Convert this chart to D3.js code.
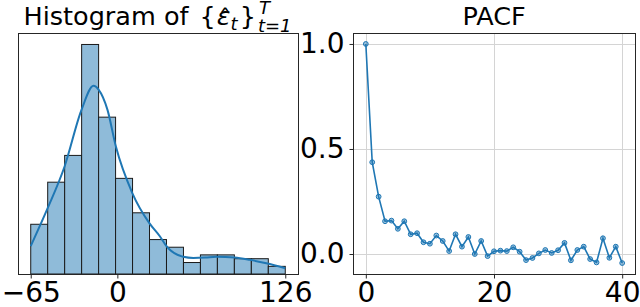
<!DOCTYPE html>
<html lang="en">
<head>
    <meta charset="UTF-8">
    <title>Residuals</title>
    <script src="https://d3js.org/d3.v7.min.js"></script>
    <style>
        body { margin: 0; background: white; }
        text { font-family: "DejaVu Sans", sans-serif; fill: black; }
        .spine { fill: none; stroke: #262626; stroke-width: 1; shape-rendering: crispEdges; }
        .grid line { stroke: #d4d4d4; stroke-width: 1; shape-rendering: crispEdges; }
    </style>
</head>
<body>
<svg height="307" width="640"></svg>

<script>
    // histogram of residuals
    const histMin = -65, histMax = 126;
    const histCounts = [13, 24, 31, 60, 41, 25, 16, 9, 7, 3, 5, 5, 4, 4, 2];
    const histTicks = [-65, 0, 126];
    // kde curve (x, count)
    const kdeX = [-65, -52.3, -39.6, -26.9, -17.9, -14.1, -7.4, -1.1, 11.3, 24, 32, 37, 49.4, 57, 66, 74.4, 88, 99.3, 111.8, 126];
    const kdeY = [7.3, 17.2, 28.1, 42.9, 49.2, 48.2, 42.9, 33.3, 21.1, 13.3, 9.8, 7.2, 4.5, 4.2, 4.3, 4.5, 4.3, 3.7, 2.8, 1.5];

    // pacf
    const pacfLags = d3.range(0, 41);
    const pacfValues = [1.0, 0.437, 0.273, 0.156, 0.159, 0.120, 0.156, 0.094, 0.099, 0.056,
        0.049, 0.088, 0.062, 0.014, 0.094, 0.035, 0.081, 0.0, 0.062, -0.010,
        0.013, 0.016, 0.014, 0.032, 0.011, -0.029, -0.019, 0.003, 0.019, 0.005,
        0.018, 0.053, -0.030, 0.019, 0.035, -0.024, -0.040, 0.075, -0.018, 0.035, -0.043];
    const pacfXTicks = [0, 20, 40];
    const pacfYTicks = [0, 0.5, 1.0];

    const svg = d3.select("svg");
    const blue = "#1f77b4";
    const tickFont = 28, titleFont = 25.5, scriptFont = 18;

    // ---------- left panel ----------
    const L = {x0: 18, x1: 298, y0: 33, y1: 274};
    const pad = (histMax - histMin) * 0.05;
    const xh = d3.scaleLinear().domain([histMin - pad, histMax + pad]).range([L.x0, L.x1]);
    const yh = d3.scaleLinear().domain([0, d3.max(histCounts) * 1.05]).range([L.y1, L.y0]);
    const binW = (histMax - histMin) / histCounts.length;

    const left = svg.append("g");
    left.selectAll("rect.bar")
        .data(histCounts)
        .enter()
        .append("rect")
        .attr("class", "bar")
        .attr("x", (d, i) => xh(histMin + i * binW))
        .attr("width", (d, i) => xh(histMin + (i + 1) * binW) - xh(histMin + i * binW))
        .attr("y", d => yh(d))
        .attr("height", d => yh(0) - yh(d))
        .style("fill", "#8fbbd9")
        .style("stroke", "#1a1a1a")
        .style("stroke-width", 1);

    const kdeLine = d3.line()
        .x(d => xh(d[0]))
        .y(d => yh(d[1]))
        .curve(d3.curveMonotoneX);
    left.append("path")
        .datum(d3.zip(kdeX, kdeY))
        .attr("d", kdeLine)
        .style("fill", "none")
        .style("stroke", blue)
        .style("stroke-width", 2);

    left.append("rect").attr("class", "spine")
        .attr("x", L.x0 + 0.5).attr("y", L.y0 + 0.5)
        .attr("width", L.x1 - L.x0).attr("height", L.y1 - L.y0);

    const xAxisH = d3.axisBottom(xh).tickValues(histTicks).tickSize(4).tickPadding(4)
        .tickFormat(d => d < 0 ? "\u2212" + Math.abs(d) : d);
    left.append("g")
        .attr("transform", `translate(0,${L.y1 + 0.5})`)
        .call(xAxisH)
        .call(g => g.select(".domain").remove())
        .call(g => g.selectAll("line").attr("stroke", "#262626"))
        .call(g => g.selectAll("text").style("font-size", tickFont + "px").style("font-family", "DejaVu Sans"));

    // title with math: Histogram of {ε̂_t}^T_{t=1}
    function mathTitle(cx, baseline) {
        const g = svg.append("g");
        let x = 0;
        function piece(txt, size, italic, dy) {
            const t = g.append("text")
                .attr("x", x).attr("y", baseline + dy)
                .style("font-size", size + "px")
                .style("font-style", italic ? "italic" : "normal")
                .text(txt);
            return t.node().getComputedTextLength();
        }
        x += piece("Histogram of", titleFont, false, 0);
        x += titleFont * 0.318 + 3;
        x += piece("{", titleFont, false, 0) + 1;
        const epsW = piece("\u03b5", titleFont, true, 0);
        g.append("text")
            .attr("x", x + epsW * 0.6).attr("y", baseline + 2)
            .attr("text-anchor", "middle")
            .style("font-size", titleFont + "px")
            .text("\u02c6");
        x += epsW;
        x += piece("t", scriptFont, true, 5) + 2;
        x += piece("}", titleFont, false, 0) + 3;
        const supX = x;
        const w1 = piece("T", scriptFont, true, -11);
        x = supX - 1;
        const w2 = piece("t=1", scriptFont, true, 7);
        x = supX + Math.max(w1, w2);
        g.attr("transform", `translate(${cx - x / 2},0)`);
    }
    mathTitle((L.x0 + L.x1) / 2, 25);

    // ---------- right panel ----------
    const R = {x0: 353, x1: 635, y0: 33, y1: 274};
    const vmin = d3.min(pacfValues), vmax = d3.max(pacfValues);
    const vpad = (vmax - vmin) * 0.05;
    const xp = d3.scaleLinear().domain([-2, 42]).range([R.x0, R.x1]);
    const yp = d3.scaleLinear().domain([vmin - vpad, vmax + vpad]).range([R.y1, R.y0]);

    const right = svg.append("g");
    const grid = right.append("g").attr("class", "grid");
    grid.selectAll("line.gx").data(pacfXTicks).enter().append("line")
        .attr("x1", d => Math.round(xp(d)) + 0.5).attr("x2", d => Math.round(xp(d)) + 0.5)
        .attr("y1", R.y0).attr("y2", R.y1);
    grid.selectAll("line.gy").data(pacfYTicks).enter().append("line")
        .attr("y1", d => Math.round(yp(d)) + 0.5).attr("y2", d => Math.round(yp(d)) + 0.5)
        .attr("x1", R.x0).attr("x2", R.x1);

    const pacfLine = d3.line()
        .x((d, i) => xp(pacfLags[i]))
        .y(d => yp(d));
    right.append("path")
        .datum(pacfValues)
        .attr("d", pacfLine)
        .style("fill", "none")
        .style("stroke", blue)
        .style("stroke-width", 1.6);
    right.selectAll("circle")
        .data(pacfValues)
        .enter()
        .append("circle")
        .attr("cx", (d, i) => xp(pacfLags[i]))
        .attr("cy", d => yp(d))
        .attr("r", 2.4)
        .style("fill", blue)
        .style("fill-opacity", 0.45)
        .style("stroke", blue)
        .style("stroke-width", 1);

    right.append("rect").attr("class", "spine")
        .attr("x", R.x0 + 0.5).attr("y", R.y0 + 0.5)
        .attr("width", R.x1 - R.x0).attr("height", R.y1 - R.y0);

    right.append("g")
        .attr("transform", `translate(0,${R.y1 + 0.5})`)
        .call(d3.axisBottom(xp).tickValues(pacfXTicks).tickSize(4).tickPadding(4))
        .call(g => g.select(".domain").remove())
        .call(g => g.selectAll("line").attr("stroke", "#262626"))
        .call(g => g.selectAll("text").style("font-size", tickFont + "px").style("font-family", "DejaVu Sans"));
    right.append("g")
        .attr("transform", `translate(${R.x0 + 0.5},0)`)
        .call(d3.axisLeft(yp).tickValues(pacfYTicks).tickSize(4).tickPadding(5).tickFormat(d3.format(".1f")))
        .call(g => g.select(".domain").remove())
        .call(g => g.selectAll("line").attr("stroke", "#262626"))
        .call(g => g.selectAll("text").style("font-size", tickFont + "px").style("font-family", "DejaVu Sans"));

    svg.append("text")
        .attr("x", (R.x0 + R.x1) / 2).attr("y", 25)
        .attr("text-anchor", "middle")
        .style("font-size", titleFont + "px")
        .text("PACF");
</script>

</body>
</html>
